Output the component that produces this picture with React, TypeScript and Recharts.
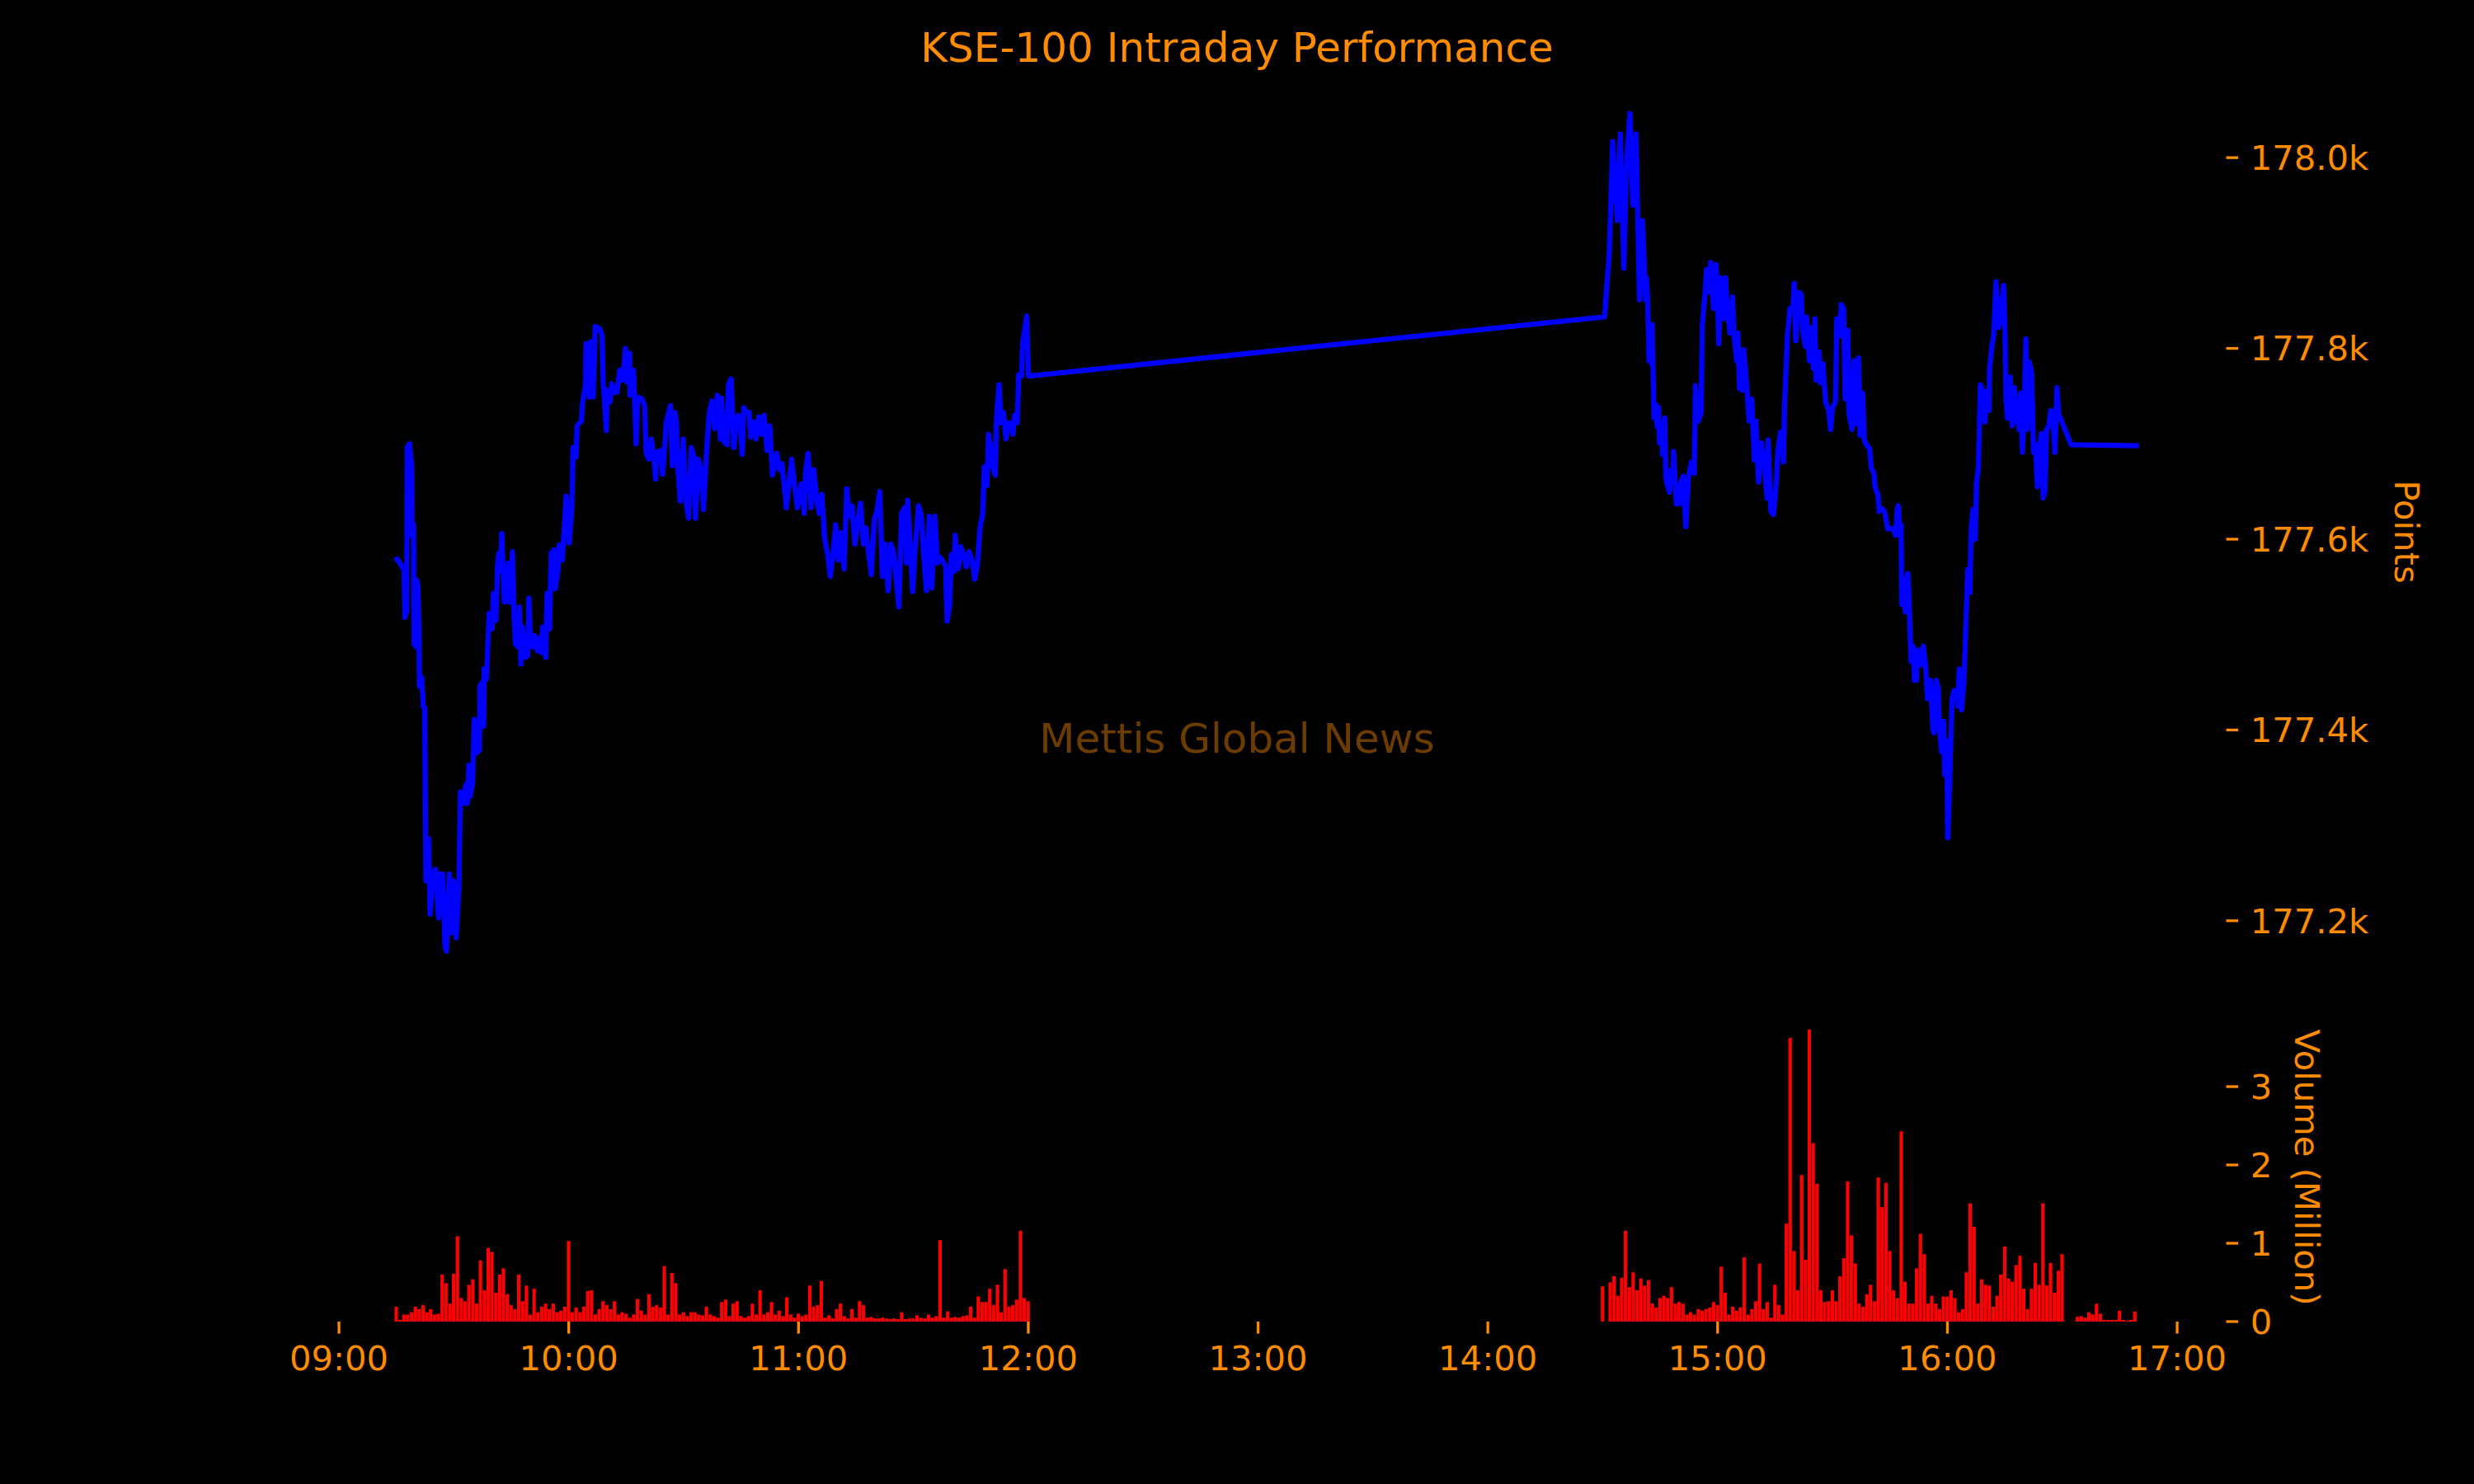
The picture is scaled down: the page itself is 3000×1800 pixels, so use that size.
import { Bar, BarChart, Line, LineChart, XAxis, YAxis } from "recharts";

// minutes after 09:00 and index level
const morningPrice: [number, number][] = [
  [14.5, 177578], [15.2, 177579], [17.0, 177568], [17.2, 177518], [17.7, 177524], [17.8, 177696], [18.4, 177700],
  [19.0, 177677], [19.1, 177603], [19.5, 177615], [19.6, 177490], [20.2, 177487], [20.3, 177557], [20.6, 177552],
  [20.9, 177506], [21.0, 177446], [21.6, 177455], [22.0, 177425], [22.4, 177423], [22.7, 177242], [23.4, 177286],
  [23.8, 177207], [24.5, 177251], [25.2, 177254], [26.0, 177203], [26.3, 177249], [27.0, 177249], [27.4, 177212],
  [27.7, 177173], [28.1, 177168], [28.8, 177249], [29.2, 177187], [29.9, 177242], [30.6, 177182], [31.3, 177233],
  [31.7, 177335], [32.4, 177323], [33.1, 177342], [33.5, 177323], [33.9, 177363], [34.2, 177330], [34.9, 177344],
  [35.3, 177411], [36.0, 177376], [36.7, 177379], [36.8, 177446], [37.4, 177450], [37.8, 177404], [37.9, 177464],
  [38.5, 177453], [39.2, 177522], [40.0, 177506], [40.3, 177543], [41.0, 177515], [41.4, 177571], [41.7, 177585],
  [42.1, 177566], [42.5, 177606], [43.2, 177534], [43.9, 177566], [44.3, 177575], [44.6, 177534], [45.3, 177587],
  [45.7, 177520], [46.1, 177490], [46.8, 177487], [47.1, 177529], [47.5, 177469], [47.9, 177508], [48.6, 177476],
  [49.3, 177478], [49.6, 177538], [50.0, 177492], [50.7, 177487], [51.1, 177499], [51.8, 177483], [52.5, 177497],
  [52.9, 177481], [53.2, 177508], [54.0, 177476], [54.3, 177543], [55.0, 177506], [55.4, 177585], [56.1, 177589],
  [56.5, 177548], [57.2, 177568], [57.5, 177594], [58.3, 177578], [58.6, 177596], [59.3, 177645], [60.1, 177596],
  [60.8, 177631], [61.1, 177696], [61.9, 177686], [62.2, 177719], [63.3, 177724], [63.6, 177742], [64.4, 177763],
  [64.5, 177805], [65.1, 177805], [65.4, 177749], [65.8, 177807], [66.4, 177749], [66.9, 177823], [68.0, 177821],
  [68.7, 177814], [69.0, 177765], [69.8, 177714], [70.1, 177756], [70.8, 177744], [71.2, 177763], [71.9, 177754],
  [72.6, 177754], [73.3, 177777], [74.1, 177767], [74.8, 177800], [75.1, 177765], [75.9, 177795], [76.0, 177751],
  [76.9, 177777], [77.6, 177700], [78.0, 177749], [79.1, 177747], [79.8, 177740], [80.2, 177691], [80.9, 177684],
  [81.6, 177705], [82.3, 177682], [82.7, 177663], [83.0, 177691], [84.1, 177693], [84.5, 177668], [85.5, 177724],
  [86.6, 177740], [87.0, 177677], [87.7, 177733], [88.1, 177724], [88.4, 177680], [89.1, 177640], [89.9, 177705],
  [90.6, 177640], [91.3, 177622], [92.0, 177696], [92.7, 177686], [93.1, 177622], [93.8, 177684], [94.5, 177673],
  [95.2, 177631], [96.0, 177693], [96.7, 177733], [97.4, 177745], [98.1, 177716], [98.8, 177751], [99.6, 177705],
  [99.9, 177748], [100.6, 177702], [101.4, 177699], [101.7, 177762], [102.4, 177768], [103.1, 177696], [103.9, 177728],
  [104.2, 177730], [104.9, 177716], [105.3, 177689], [105.7, 177738], [106.4, 177733], [107.1, 177733], [107.5, 177707],
  [108.2, 177723], [108.9, 177705], [109.6, 177728], [110.3, 177710], [111.0, 177730], [111.8, 177693], [112.5, 177719],
  [113.2, 177667], [114.3, 177690], [115.0, 177673], [115.7, 177679], [116.8, 177633], [117.5, 177658], [118.2, 177684],
  [118.9, 177658], [119.7, 177633], [120.7, 177658], [121.5, 177627], [121.8, 177670], [122.5, 177690], [123.3, 177633],
  [124.0, 177673], [124.7, 177644], [125.4, 177627], [126.1, 177647], [126.8, 177601], [127.6, 177584], [128.3, 177561],
  [129.0, 177584], [129.7, 177615], [130.4, 177578], [131.1, 177607], [131.9, 177569], [132.6, 177653], [133.3, 177624],
  [134.0, 177635], [134.7, 177595], [135.5, 177618], [136.2, 177638], [136.9, 177595], [137.6, 177612], [138.3, 177584],
  [139.0, 177563], [139.8, 177621], [140.5, 177630], [141.2, 177650], [141.9, 177561], [142.6, 177595], [143.4, 177546],
  [144.1, 177595], [144.8, 177587], [145.5, 177558], [146.2, 177529], [146.9, 177627], [147.7, 177633], [148.2, 177575],
  [148.5, 177641], [149.1, 177598], [149.8, 177545], [150.5, 177592], [151.3, 177635], [152.0, 177627], [152.7, 177584],
  [153.4, 177546], [154.1, 177624], [154.8, 177549], [155.6, 177624], [156.3, 177575], [157.0, 177581], [158.4, 177572],
  [158.8, 177514], [159.5, 177532], [159.9, 177584], [160.6, 177566], [160.9, 177604], [161.7, 177569], [162.4, 177592],
  [163.1, 177584], [163.8, 177571], [164.5, 177587], [165.3, 177578], [166.0, 177558], [166.7, 177572], [167.4, 177612],
  [168.1, 177627], [168.5, 177676], [169.2, 177656], [169.6, 177710], [170.3, 177693], [170.6, 177676], [171.4, 177667],
  [171.7, 177730], [172.4, 177762], [172.8, 177722], [173.5, 177733], [174.2, 177705], [174.9, 177722], [175.7, 177722],
  [176.0, 177710], [176.4, 177730], [177.1, 177722], [177.5, 177772], [178.2, 177771], [178.5, 177805], [179.6, 177834],
  [180.0, 177771],
];

const afternoonPrice: [number, number][] = [
  [330.5, 177833], [331.7, 177901], [332.6, 178017], [333.8, 177934], [334.6, 178025], [335.5, 177884], [336.3, 178000],
  [337.1, 178046], [337.9, 177950], [338.7, 178025], [339.6, 177851], [340.4, 177934], [341.2, 177851], [341.4, 177874],
  [341.7, 177854], [342.1, 177787], [342.4, 177825], [342.8, 177784], [342.9, 177825], [343.4, 177727], [343.9, 177741],
  [344.2, 177718], [344.6, 177738], [344.8, 177701], [345.3, 177721], [345.6, 177689], [346.2, 177727], [346.5, 177663],
  [347.4, 177649], [347.8, 177672], [348.2, 177660], [348.5, 177692], [349.2, 177637], [350.0, 177637], [350.3, 177657],
  [351.0, 177666], [351.7, 177613], [352.4, 177666], [353.2, 177681], [353.9, 177669], [354.2, 177761], [355.0, 177724],
  [355.7, 177732], [356.0, 177825], [356.7, 177857], [357.1, 177883], [357.8, 177859], [358.2, 177890], [358.9, 177842],
  [359.6, 177888], [360.0, 177854], [360.3, 177805], [360.7, 177874], [361.4, 177831], [362.1, 177874], [362.5, 177842],
  [363.2, 177816], [363.9, 177854], [364.3, 177813], [365.0, 177787], [365.3, 177816], [365.7, 177758], [366.1, 177790],
  [366.4, 177756], [366.8, 177799], [367.5, 177767], [368.2, 177724], [368.9, 177747], [369.6, 177683], [370.0, 177724],
  [370.7, 177660], [371.4, 177701], [372.1, 177681], [372.9, 177643], [373.2, 177704], [373.9, 177629], [374.6, 177626],
  [375.4, 177663], [375.7, 177692], [376.4, 177712], [377.2, 177681], [377.5, 177741], [378.2, 177813], [378.9, 177842],
  [379.6, 177839], [380.0, 177868], [380.4, 177808], [381.1, 177859], [381.8, 177857], [382.2, 177819], [382.9, 177802],
  [383.2, 177833], [384.0, 177787], [384.3, 177822], [385.0, 177779], [385.4, 177831], [385.7, 177767], [386.5, 177796],
  [386.8, 177764], [387.5, 177784], [388.2, 177744], [389.0, 177735], [389.5, 177715], [390.0, 177738], [390.8, 177744],
  [391.1, 177831], [391.8, 177813], [392.3, 177846], [392.9, 177842], [393.3, 177747], [394.0, 177819], [394.3, 177732],
  [395.1, 177715], [395.6, 177787], [396.1, 177721], [396.8, 177790], [397.2, 177709], [397.9, 177753], [398.3, 177704],
  [399.0, 177698], [399.7, 177695], [400.1, 177675], [400.8, 177669], [401.1, 177655], [401.9, 177646], [402.2, 177629],
  [402.9, 177632], [403.6, 177629], [404.4, 177611], [405.8, 177611], [406.5, 177604], [406.9, 177631], [407.2, 177635],
  [407.6, 177604], [407.9, 177615], [408.1, 177532], [408.7, 177532], [409.0, 177524], [409.4, 177560], [409.7, 177564],
  [410.1, 177524], [410.5, 177472], [411.0, 177488], [411.4, 177452], [411.9, 177452], [412.2, 177484], [413.0, 177468],
  [413.7, 177488], [414.3, 177468], [414.8, 177433], [415.1, 177433], [415.6, 177452], [416.2, 177401], [416.5, 177397],
  [417.1, 177452], [417.6, 177444], [417.9, 177401], [418.5, 177377], [419.0, 177409], [419.3, 177353], [419.8, 177389],
  [420.1, 177287], [420.6, 177345], [421.2, 177433], [421.7, 177441], [422.4, 177441], [422.7, 177425], [423.1, 177464],
  [423.7, 177421], [424.3, 177449], [424.8, 177508], [425.3, 177568], [425.9, 177544], [426.2, 177611], [426.7, 177631],
  [427.3, 177600], [427.6, 177659], [428.1, 177675], [428.6, 177762], [429.3, 177755], [429.8, 177723], [430.3, 177755],
  [430.9, 177735], [431.0, 177778], [431.6, 177802], [432.1, 177814], [432.7, 177870], [433.0, 177850], [433.4, 177822],
  [433.9, 177830], [434.2, 177846], [434.7, 177866], [435.0, 177826], [435.3, 177747], [435.7, 177727], [436.4, 177770],
  [436.9, 177719], [437.5, 177759], [437.9, 177723], [438.4, 177735], [438.7, 177715], [439.1, 177753], [439.6, 177691],
  [440.0, 177727], [440.5, 177810], [440.9, 177715], [441.4, 177786], [442.0, 177774], [442.5, 177691], [443.0, 177699],
  [443.5, 177655], [444.1, 177699], [444.6, 177711], [445.0, 177643], [445.5, 177651], [445.9, 177715], [446.5, 177719],
  [447.0, 177735], [447.5, 177731], [448.1, 177691], [448.6, 177759], [449.1, 177731], [452.3, 177699], [470.0, 177698],
];

// volume in million shares, one bar per minute
const morningVolStart = 15;
const morningVolume = [
  0.19, 0.02, 0.09, 0.09, 0.12, 0.19, 0.16, 0.21, 0.12, 0.16, 0.09, 0.1, 0.6, 0.49, 0.23, 0.61, 1.09, 0.3, 0.26, 0.47,
  0.54, 0.23, 0.78, 0.4, 0.94, 0.89, 0.37, 0.6, 0.68, 0.35, 0.21, 0.16, 0.6, 0.26, 0.46, 0.09, 0.42, 0.12, 0.19, 0.23,
  0.16, 0.23, 0.12, 0.14, 0.19, 1.03, 0.12, 0.18, 0.12, 0.19, 0.39, 0.4, 0.09, 0.16, 0.26, 0.21, 0.16, 0.26, 0.09, 0.12,
  0.1, 0.05, 0.09, 0.29, 0.14, 0.09, 0.35, 0.19, 0.21, 0.18, 0.71, 0.09, 0.62, 0.49, 0.09, 0.12, 0.07, 0.12, 0.12, 0.09,
  0.08, 0.19, 0.09, 0.07, 0.05, 0.25, 0.28, 0.07, 0.23, 0.26, 0.07, 0.05, 0.07, 0.23, 0.09, 0.4, 0.09, 0.12, 0.25, 0.09,
  0.14, 0.07, 0.31, 0.09, 0.05, 0.1, 0.07, 0.09, 0.46, 0.19, 0.21, 0.52, 0.05, 0.08, 0.04, 0.16, 0.23, 0.07, 0.04, 0.16,
  0.05, 0.26, 0.21, 0.05, 0.06, 0.04, 0.04, 0.05, 0.04, 0.03, 0.04, 0.03, 0.12, 0.03, 0.04, 0.04, 0.08, 0.05, 0.04, 0.09,
  0.05, 0.07, 1.04, 0.05, 0.13, 0.05, 0.06, 0.05, 0.07, 0.08, 0.19, 0.05, 0.32, 0.25, 0.25, 0.42, 0.21, 0.47, 0.12, 0.67,
  0.19, 0.21, 0.28, 1.16, 0.3, 0.26,
];
const afternoonVolStart = 330;
const afternoonVolume = [
  0.45, 0, 0.5, 0.58, 0.33, 0.56, 1.16, 0.44, 0.63, 0.4, 0.55, 0.46, 0.53, 0.23, 0.18, 0.3, 0.33, 0.3, 0.44, 0.23,
  0.25, 0.23, 0.09, 0.12, 0.09, 0.16, 0.14, 0.16, 0.18, 0.25, 0.21, 0.7, 0.37, 0.09, 0.19, 0.14, 0.18, 0.82, 0.09, 0.16,
  0.26, 0.74, 0.16, 0.25, 0.05, 0.47, 0.21, 0.09, 1.25, 3.62, 0.9, 0.4, 1.87, 0.79, 3.73, 2.28, 1.76, 0.4, 0.25, 0.26,
  0.4, 0.26, 0.58, 0.81, 1.79, 1.1, 0.74, 0.23, 0.19, 0.35, 0.47, 0.26, 1.84, 1.46, 1.77, 0.9, 0.4, 0.3, 2.43, 0.51,
  0.23, 0.23, 0.68, 1.12, 0.86, 0.23, 0.33, 0.23, 0.16, 0.32, 0.32, 0.4, 0.3, 0.12, 0.16, 0.63, 1.51, 1.21, 0.23, 0.54,
  0.47, 0.46, 0.19, 0.33, 0.6, 0.96, 0.55, 0.51, 0.72, 0.84, 0.42, 0.16, 0.42, 0.75, 0.47, 1.51, 0.46, 0.75, 0.37, 0.65,
  0.86,
];
const tailVolStart = 454;
const tailVolume = [0.06, 0.07, 0.05, 0.12, 0.09, 0.23, 0.1, 0.02, 0.02, 0.02, 0.02, 0.14, 0.02, 0.01, 0.02, 0.13];

const timeTicks = [0, 60, 120, 180, 240, 300, 360, 420, 480];
const timeLabels = ["09:00", "10:00", "11:00", "12:00", "13:00", "14:00", "15:00", "16:00", "17:00"];
const priceTicks = [177200, 177400, 177600, 177800, 178000];
const volumeTicks = [0, 1, 2, 3];

const priceData = [...morningPrice, ...afternoonPrice].map(([t, price]) => ({ t, price }));
const volumeData = [
  ...morningVolume.map((vol, i) => ({ t: morningVolStart + i, vol })),
  ...afternoonVolume.map((vol, i) => ({ t: afternoonVolStart + i, vol })),
  ...tailVolume.map((vol, i) => ({ t: tailVolStart + i, vol })),
];

const orange = "#ff8c00";
const font = "'DejaVu Sans', sans-serif";
const tickFont = { fill: orange, fontSize: 41.7, fontFamily: font };
const tickLine = { stroke: orange, strokeWidth: 3.3 };
const xDomain = [-8.3, 492.8];
const margin = { left: 372.5, right: 50.5 };

function PriceChart() {
  return (
    <LineChart width={3000} height={1300} data={priceData} margin={{ ...margin, top: 75.5, bottom: 67.5 }}>
      <XAxis dataKey="t" type="number" domain={xDomain} allowDataOverflow hide />
      <YAxis
        orientation="right"
        width={250}
        domain={[177100, 178100]}
        allowDataOverflow
        ticks={priceTicks}
        tickFormatter={(v: number) => `${(v / 1000).toFixed(1)}k`}
        axisLine={false}
        tickLine={tickLine}
        tickSize={14.6}
        tickMargin={14.6}
        tick={tickFont}
      />
      <Line
        type="linear"
        dataKey="price"
        stroke="#0000ff"
        strokeWidth={6.25}
        strokeLinejoin="round"
        dot={false}
        isAnimationActive={false}
      />
    </LineChart>
  );
}

function VolumeChart() {
  return (
    <BarChart width={3000} height={1800} data={volumeData} margin={{ ...margin, top: 1232.5, bottom: 97 }}>
      <XAxis
        dataKey="t"
        type="number"
        domain={xDomain}
        allowDataOverflow
        ticks={timeTicks}
        tickFormatter={(v: number) => timeLabels[timeTicks.indexOf(v)]}
        height={100}
        axisLine={false}
        tickLine={tickLine}
        tickSize={14.6}
        tickMargin={14.6}
        tick={tickFont}
        interval={0}
      />
      <YAxis
        orientation="right"
        width={250}
        domain={[0, 3.9]}
        allowDataOverflow
        ticks={volumeTicks}
        axisLine={false}
        tickLine={tickLine}
        tickSize={14.6}
        tickMargin={14.6}
        tick={tickFont}
      />
      <Bar dataKey="vol" fill="#ff0000" barSize={5.2} isAnimationActive={false} />
    </BarChart>
  );
}

export default function App() {
  const layer = { position: "absolute" as const, left: 0, top: 0 };
  return (
    <div style={{ position: "fixed", left: 0, top: 0, width: 3000, height: 1800, background: "#000", overflow: "hidden" }}>
      <svg width={3000} height={1800} style={layer}>
        <text x={1500} y={913} textAnchor="middle" fill={orange} fillOpacity={0.42} fontSize={50} fontFamily={font}>
          Mettis Global News
        </text>
      </svg>
      <div style={layer}>
        <PriceChart />
      </div>
      <div style={layer}>
        <VolumeChart />
      </div>
      <svg width={3000} height={1800} style={{ ...layer, pointerEvents: "none" }}>
        <text x={1500} y={75} textAnchor="middle" fill={orange} fontSize={50} fontFamily={font}>
          KSE-100 Intraday Performance
        </text>
        <text
          x={2918}
          y={645}
          transform="rotate(90 2918 645)"
          textAnchor="middle"
          dominantBaseline="central"
          fill={orange}
          fontSize={41.7}
          fontFamily={font}
        >
          Points
        </text>
        <text
          x={2797}
          y={1416}
          transform="rotate(90 2797 1416)"
          textAnchor="middle"
          dominantBaseline="central"
          fill={orange}
          fontSize={41.7}
          fontFamily={font}
        >
          Volume (Million)
        </text>
      </svg>
    </div>
  );
}
